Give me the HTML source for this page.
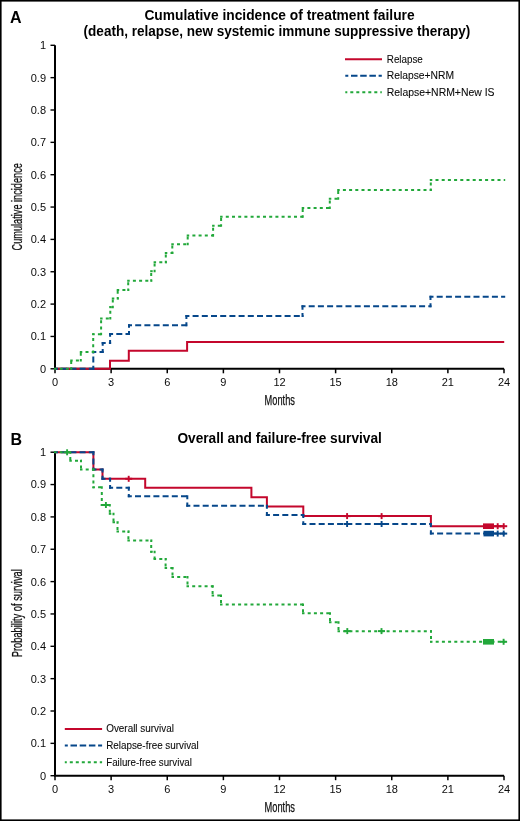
<!DOCTYPE html>
<html><head><meta charset="utf-8"><style>
html,body{margin:0;padding:0;background:#fff;}
svg{display:block;}
text{font-family:"Liberation Sans",sans-serif;fill:#0a0a0a;}
svg{will-change:transform;}
.tk{font-size:11px;}
.lg{font-size:10px;stroke:#0a0a0a;stroke-width:0.08px;}
.ti{font-size:13.8px;font-weight:bold;fill:#000;}
.pl{font-size:16px;font-weight:bold;fill:#000;}
.ax{font-size:14px;stroke:#1a1a1a;stroke-width:0.25px;}
</style></head><body>
<svg width="520" height="821" viewBox="0 0 520 821">
<rect x="0" y="0" width="520" height="821" fill="#fff"/>
<text x="10" y="22.6" class="pl">A</text>
<text x="10.5" y="445.4" class="pl">B</text>
<text x="144.4" y="19.5" class="ti" textLength="270.2" lengthAdjust="spacingAndGlyphs">Cumulative incidence of treatment failure</text>
<text x="83.6" y="35.7" class="ti" textLength="386.8" lengthAdjust="spacingAndGlyphs">(death, relapse, new systemic immune suppressive therapy)</text>
<text x="177.4" y="443" class="ti" textLength="204.4" lengthAdjust="spacingAndGlyphs">Overall and failure-free survival</text>
<path d="M55,45.3 V368.8 H504" fill="none" stroke="#000" stroke-width="2" stroke-linejoin="miter"/>
<line x1="50.5" y1="368.80" x2="55" y2="368.80" stroke="#000" stroke-width="1.4"/>
<text x="46" y="372.70" text-anchor="end" class="tk">0</text>
<line x1="50.5" y1="336.45" x2="55" y2="336.45" stroke="#000" stroke-width="1.4"/>
<text x="46" y="340.35" text-anchor="end" class="tk">0.1</text>
<line x1="50.5" y1="304.10" x2="55" y2="304.10" stroke="#000" stroke-width="1.4"/>
<text x="46" y="308.00" text-anchor="end" class="tk">0.2</text>
<line x1="50.5" y1="271.75" x2="55" y2="271.75" stroke="#000" stroke-width="1.4"/>
<text x="46" y="275.65" text-anchor="end" class="tk">0.3</text>
<line x1="50.5" y1="239.40" x2="55" y2="239.40" stroke="#000" stroke-width="1.4"/>
<text x="46" y="243.30" text-anchor="end" class="tk">0.4</text>
<line x1="50.5" y1="207.05" x2="55" y2="207.05" stroke="#000" stroke-width="1.4"/>
<text x="46" y="210.95" text-anchor="end" class="tk">0.5</text>
<line x1="50.5" y1="174.70" x2="55" y2="174.70" stroke="#000" stroke-width="1.4"/>
<text x="46" y="178.60" text-anchor="end" class="tk">0.6</text>
<line x1="50.5" y1="142.35" x2="55" y2="142.35" stroke="#000" stroke-width="1.4"/>
<text x="46" y="146.25" text-anchor="end" class="tk">0.7</text>
<line x1="50.5" y1="110.00" x2="55" y2="110.00" stroke="#000" stroke-width="1.4"/>
<text x="46" y="113.90" text-anchor="end" class="tk">0.8</text>
<line x1="50.5" y1="77.65" x2="55" y2="77.65" stroke="#000" stroke-width="1.4"/>
<text x="46" y="81.55" text-anchor="end" class="tk">0.9</text>
<line x1="50.5" y1="45.30" x2="55" y2="45.30" stroke="#000" stroke-width="1.4"/>
<text x="46" y="49.20" text-anchor="end" class="tk">1</text>
<line x1="55.00" y1="368.8" x2="55.00" y2="373.3" stroke="#000" stroke-width="1.5"/>
<text x="55.00" y="386.00" text-anchor="middle" class="tk">0</text>
<line x1="111.12" y1="368.8" x2="111.12" y2="373.3" stroke="#000" stroke-width="1.5"/>
<text x="111.12" y="386.00" text-anchor="middle" class="tk">3</text>
<line x1="167.25" y1="368.8" x2="167.25" y2="373.3" stroke="#000" stroke-width="1.5"/>
<text x="167.25" y="386.00" text-anchor="middle" class="tk">6</text>
<line x1="223.38" y1="368.8" x2="223.38" y2="373.3" stroke="#000" stroke-width="1.5"/>
<text x="223.38" y="386.00" text-anchor="middle" class="tk">9</text>
<line x1="279.50" y1="368.8" x2="279.50" y2="373.3" stroke="#000" stroke-width="1.5"/>
<text x="279.50" y="386.00" text-anchor="middle" class="tk">12</text>
<line x1="335.62" y1="368.8" x2="335.62" y2="373.3" stroke="#000" stroke-width="1.5"/>
<text x="335.62" y="386.00" text-anchor="middle" class="tk">15</text>
<line x1="391.75" y1="368.8" x2="391.75" y2="373.3" stroke="#000" stroke-width="1.5"/>
<text x="391.75" y="386.00" text-anchor="middle" class="tk">18</text>
<line x1="447.88" y1="368.8" x2="447.88" y2="373.3" stroke="#000" stroke-width="1.5"/>
<text x="447.88" y="386.00" text-anchor="middle" class="tk">21</text>
<line x1="504.00" y1="368.8" x2="504.00" y2="373.3" stroke="#000" stroke-width="1.5"/>
<text x="504.00" y="386.00" text-anchor="middle" class="tk">24</text>
<path d="M55,452.2 V775.7 H504" fill="none" stroke="#000" stroke-width="2" stroke-linejoin="miter"/>
<line x1="50.5" y1="775.70" x2="55" y2="775.70" stroke="#000" stroke-width="1.4"/>
<text x="46" y="779.60" text-anchor="end" class="tk">0</text>
<line x1="50.5" y1="743.35" x2="55" y2="743.35" stroke="#000" stroke-width="1.4"/>
<text x="46" y="747.25" text-anchor="end" class="tk">0.1</text>
<line x1="50.5" y1="711.00" x2="55" y2="711.00" stroke="#000" stroke-width="1.4"/>
<text x="46" y="714.90" text-anchor="end" class="tk">0.2</text>
<line x1="50.5" y1="678.65" x2="55" y2="678.65" stroke="#000" stroke-width="1.4"/>
<text x="46" y="682.55" text-anchor="end" class="tk">0.3</text>
<line x1="50.5" y1="646.30" x2="55" y2="646.30" stroke="#000" stroke-width="1.4"/>
<text x="46" y="650.20" text-anchor="end" class="tk">0.4</text>
<line x1="50.5" y1="613.95" x2="55" y2="613.95" stroke="#000" stroke-width="1.4"/>
<text x="46" y="617.85" text-anchor="end" class="tk">0.5</text>
<line x1="50.5" y1="581.60" x2="55" y2="581.60" stroke="#000" stroke-width="1.4"/>
<text x="46" y="585.50" text-anchor="end" class="tk">0.6</text>
<line x1="50.5" y1="549.25" x2="55" y2="549.25" stroke="#000" stroke-width="1.4"/>
<text x="46" y="553.15" text-anchor="end" class="tk">0.7</text>
<line x1="50.5" y1="516.90" x2="55" y2="516.90" stroke="#000" stroke-width="1.4"/>
<text x="46" y="520.80" text-anchor="end" class="tk">0.8</text>
<line x1="50.5" y1="484.55" x2="55" y2="484.55" stroke="#000" stroke-width="1.4"/>
<text x="46" y="488.45" text-anchor="end" class="tk">0.9</text>
<line x1="50.5" y1="452.20" x2="55" y2="452.20" stroke="#000" stroke-width="1.4"/>
<text x="46" y="456.10" text-anchor="end" class="tk">1</text>
<line x1="55.00" y1="775.7" x2="55.00" y2="780.2" stroke="#000" stroke-width="1.5"/>
<text x="55.00" y="792.90" text-anchor="middle" class="tk">0</text>
<line x1="111.12" y1="775.7" x2="111.12" y2="780.2" stroke="#000" stroke-width="1.5"/>
<text x="111.12" y="792.90" text-anchor="middle" class="tk">3</text>
<line x1="167.25" y1="775.7" x2="167.25" y2="780.2" stroke="#000" stroke-width="1.5"/>
<text x="167.25" y="792.90" text-anchor="middle" class="tk">6</text>
<line x1="223.38" y1="775.7" x2="223.38" y2="780.2" stroke="#000" stroke-width="1.5"/>
<text x="223.38" y="792.90" text-anchor="middle" class="tk">9</text>
<line x1="279.50" y1="775.7" x2="279.50" y2="780.2" stroke="#000" stroke-width="1.5"/>
<text x="279.50" y="792.90" text-anchor="middle" class="tk">12</text>
<line x1="335.62" y1="775.7" x2="335.62" y2="780.2" stroke="#000" stroke-width="1.5"/>
<text x="335.62" y="792.90" text-anchor="middle" class="tk">15</text>
<line x1="391.75" y1="775.7" x2="391.75" y2="780.2" stroke="#000" stroke-width="1.5"/>
<text x="391.75" y="792.90" text-anchor="middle" class="tk">18</text>
<line x1="447.88" y1="775.7" x2="447.88" y2="780.2" stroke="#000" stroke-width="1.5"/>
<text x="447.88" y="792.90" text-anchor="middle" class="tk">21</text>
<line x1="504.00" y1="775.7" x2="504.00" y2="780.2" stroke="#000" stroke-width="1.5"/>
<text x="504.00" y="792.90" text-anchor="middle" class="tk">24</text>
<text x="264.6" y="405.4" class="ax" textLength="30.3" lengthAdjust="spacingAndGlyphs">Months</text>
<text x="264.6" y="812.2" class="ax" textLength="30.4" lengthAdjust="spacingAndGlyphs">Months</text>
<text transform="translate(22,250.5) rotate(-90)" x="0" y="0" class="ax" textLength="87.4" lengthAdjust="spacingAndGlyphs">Cumulative incidence</text>
<text transform="translate(22,657.3) rotate(-90)" x="0" y="0" class="ax" textLength="88.1" lengthAdjust="spacingAndGlyphs">Probability of survival</text>
<line x1="345" y1="59.2" x2="382" y2="59.2" stroke="#c4072c" stroke-width="2"/>
<line x1="345.3" y1="75.8" x2="381.8" y2="75.8" stroke="#06478a" stroke-width="2" stroke-dasharray="6.5 2.7" stroke-dashoffset="3.5"/>
<line x1="345.3" y1="92.3" x2="381.8" y2="92.3" stroke="#22a83a" stroke-width="2" stroke-dasharray="3 3" stroke-dashoffset="1"/>
<text x="386.8" y="62.5" class="lg" textLength="36" lengthAdjust="spacingAndGlyphs">Relapse</text>
<text x="386.8" y="79.1" class="lg" textLength="67.3" lengthAdjust="spacingAndGlyphs">Relapse+NRM</text>
<text x="386.8" y="95.6" class="lg" textLength="107.7" lengthAdjust="spacingAndGlyphs">Relapse+NRM+New IS</text>
<line x1="64.8" y1="728.9" x2="102.1" y2="728.9" stroke="#c4072c" stroke-width="2"/>
<line x1="64.8" y1="745.4" x2="102.1" y2="745.4" stroke="#06478a" stroke-width="2" stroke-dasharray="6.5 2.7" stroke-dashoffset="3.5"/>
<line x1="64.8" y1="762.3" x2="102.1" y2="762.3" stroke="#22a83a" stroke-width="2" stroke-dasharray="3 3" stroke-dashoffset="1"/>
<text x="106.2" y="732.4" class="lg" textLength="67.7" lengthAdjust="spacingAndGlyphs">Overall survival</text>
<text x="106.2" y="748.9" class="lg" textLength="92.6" lengthAdjust="spacingAndGlyphs">Relapse-free survival</text>
<text x="106.2" y="765.7" class="lg" textLength="85.7" lengthAdjust="spacingAndGlyphs">Failure-free survival</text>
<path d="M55,368.8 H110 V360.8 H128.8 V350.8 H187.1 V342.1 H504.2" fill="none" stroke="#c4072c" stroke-width="2"/>
<line x1="54.00" y1="368.80" x2="94.30" y2="368.80" stroke="#06478a" stroke-width="2" stroke-dasharray="6 3.2" stroke-dashoffset="2.00"/>
<line x1="93.30" y1="369.80" x2="93.30" y2="350.90" stroke="#06478a" stroke-width="2" stroke-dasharray="6 3.2" stroke-dashoffset="2.00"/>
<line x1="92.30" y1="351.90" x2="103.70" y2="351.90" stroke="#06478a" stroke-width="2" stroke-dasharray="6 3.2" stroke-dashoffset="2.00"/>
<line x1="102.70" y1="352.90" x2="102.70" y2="342.00" stroke="#06478a" stroke-width="2" stroke-dasharray="6 3.2" stroke-dashoffset="2.00"/>
<line x1="101.70" y1="343.00" x2="111.10" y2="343.00" stroke="#06478a" stroke-width="2" stroke-dasharray="6 3.2" stroke-dashoffset="2.00"/>
<line x1="110.10" y1="344.00" x2="110.10" y2="333.00" stroke="#06478a" stroke-width="2" stroke-dasharray="6 3.2" stroke-dashoffset="2.00"/>
<line x1="109.10" y1="334.00" x2="130.00" y2="334.00" stroke="#06478a" stroke-width="2" stroke-dasharray="6 3.2" stroke-dashoffset="2.00"/>
<line x1="129.00" y1="335.00" x2="129.00" y2="324.30" stroke="#06478a" stroke-width="2" stroke-dasharray="6 3.2" stroke-dashoffset="2.00"/>
<line x1="128.00" y1="325.30" x2="187.40" y2="325.30" stroke="#06478a" stroke-width="2" stroke-dasharray="6 3.2" stroke-dashoffset="2.00"/>
<line x1="186.40" y1="326.30" x2="186.40" y2="315.00" stroke="#06478a" stroke-width="2" stroke-dasharray="6 3.2" stroke-dashoffset="2.00"/>
<line x1="185.40" y1="316.00" x2="303.50" y2="316.00" stroke="#06478a" stroke-width="2" stroke-dasharray="6 3.2" stroke-dashoffset="2.00"/>
<line x1="302.50" y1="317.00" x2="302.50" y2="305.30" stroke="#06478a" stroke-width="2" stroke-dasharray="6 3.2" stroke-dashoffset="2.00"/>
<line x1="301.50" y1="306.30" x2="431.50" y2="306.30" stroke="#06478a" stroke-width="2" stroke-dasharray="6 3.2" stroke-dashoffset="2.00"/>
<line x1="430.50" y1="307.30" x2="430.50" y2="295.80" stroke="#06478a" stroke-width="2" stroke-dasharray="6 3.2" stroke-dashoffset="2.00"/>
<line x1="429.50" y1="296.80" x2="505.20" y2="296.80" stroke="#06478a" stroke-width="2" stroke-dasharray="6 3.2" stroke-dashoffset="2.00"/>
<line x1="54.00" y1="368.80" x2="72.20" y2="368.80" stroke="#22a83a" stroke-width="2" stroke-dasharray="3 3.2" stroke-dashoffset="0.50"/>
<line x1="71.20" y1="369.80" x2="71.20" y2="359.50" stroke="#22a83a" stroke-width="2" stroke-dasharray="3 3.2" stroke-dashoffset="0.50"/>
<line x1="70.20" y1="360.50" x2="81.80" y2="360.50" stroke="#22a83a" stroke-width="2" stroke-dasharray="3 3.2" stroke-dashoffset="0.50"/>
<line x1="80.80" y1="361.50" x2="80.80" y2="351.00" stroke="#22a83a" stroke-width="2" stroke-dasharray="3 3.2" stroke-dashoffset="0.50"/>
<line x1="79.80" y1="352.00" x2="94.20" y2="352.00" stroke="#22a83a" stroke-width="2" stroke-dasharray="3 3.2" stroke-dashoffset="0.50"/>
<line x1="93.20" y1="353.00" x2="93.20" y2="333.20" stroke="#22a83a" stroke-width="2" stroke-dasharray="3 3.2" stroke-dashoffset="0.50"/>
<line x1="92.20" y1="334.20" x2="102.10" y2="334.20" stroke="#22a83a" stroke-width="2" stroke-dasharray="3 3.2" stroke-dashoffset="0.50"/>
<line x1="101.10" y1="335.20" x2="101.10" y2="317.50" stroke="#22a83a" stroke-width="2" stroke-dasharray="3 3.2" stroke-dashoffset="0.50"/>
<line x1="100.10" y1="318.50" x2="111.30" y2="318.50" stroke="#22a83a" stroke-width="2" stroke-dasharray="3 3.2" stroke-dashoffset="0.50"/>
<line x1="110.30" y1="319.50" x2="110.30" y2="306.20" stroke="#22a83a" stroke-width="2" stroke-dasharray="3 3.2" stroke-dashoffset="0.50"/>
<line x1="109.30" y1="307.20" x2="113.80" y2="307.20" stroke="#22a83a" stroke-width="2" stroke-dasharray="3 3.2" stroke-dashoffset="0.50"/>
<line x1="112.80" y1="308.20" x2="112.80" y2="297.50" stroke="#22a83a" stroke-width="2" stroke-dasharray="3 3.2" stroke-dashoffset="0.50"/>
<line x1="111.80" y1="298.50" x2="118.70" y2="298.50" stroke="#22a83a" stroke-width="2" stroke-dasharray="3 3.2" stroke-dashoffset="0.50"/>
<line x1="117.70" y1="299.50" x2="117.70" y2="289.00" stroke="#22a83a" stroke-width="2" stroke-dasharray="3 3.2" stroke-dashoffset="0.50"/>
<line x1="116.70" y1="290.00" x2="129.20" y2="290.00" stroke="#22a83a" stroke-width="2" stroke-dasharray="3 3.2" stroke-dashoffset="0.50"/>
<line x1="128.20" y1="291.00" x2="128.20" y2="279.80" stroke="#22a83a" stroke-width="2" stroke-dasharray="3 3.2" stroke-dashoffset="0.50"/>
<line x1="127.20" y1="280.80" x2="152.20" y2="280.80" stroke="#22a83a" stroke-width="2" stroke-dasharray="3 3.2" stroke-dashoffset="0.50"/>
<line x1="151.20" y1="281.80" x2="151.20" y2="270.20" stroke="#22a83a" stroke-width="2" stroke-dasharray="3 3.2" stroke-dashoffset="0.50"/>
<line x1="150.20" y1="271.20" x2="155.60" y2="271.20" stroke="#22a83a" stroke-width="2" stroke-dasharray="3 3.2" stroke-dashoffset="0.50"/>
<line x1="154.60" y1="272.20" x2="154.60" y2="261.30" stroke="#22a83a" stroke-width="2" stroke-dasharray="3 3.2" stroke-dashoffset="0.50"/>
<line x1="153.60" y1="262.30" x2="166.80" y2="262.30" stroke="#22a83a" stroke-width="2" stroke-dasharray="3 3.2" stroke-dashoffset="0.50"/>
<line x1="165.80" y1="263.30" x2="165.80" y2="252.10" stroke="#22a83a" stroke-width="2" stroke-dasharray="3 3.2" stroke-dashoffset="0.50"/>
<line x1="164.80" y1="253.10" x2="173.30" y2="253.10" stroke="#22a83a" stroke-width="2" stroke-dasharray="3 3.2" stroke-dashoffset="0.50"/>
<line x1="172.30" y1="254.10" x2="172.30" y2="243.20" stroke="#22a83a" stroke-width="2" stroke-dasharray="3 3.2" stroke-dashoffset="0.50"/>
<line x1="171.30" y1="244.20" x2="188.70" y2="244.20" stroke="#22a83a" stroke-width="2" stroke-dasharray="3 3.2" stroke-dashoffset="0.50"/>
<line x1="187.70" y1="245.20" x2="187.70" y2="234.40" stroke="#22a83a" stroke-width="2" stroke-dasharray="3 3.2" stroke-dashoffset="0.50"/>
<line x1="186.70" y1="235.40" x2="214.10" y2="235.40" stroke="#22a83a" stroke-width="2" stroke-dasharray="3 3.2" stroke-dashoffset="0.50"/>
<line x1="213.10" y1="236.40" x2="213.10" y2="224.80" stroke="#22a83a" stroke-width="2" stroke-dasharray="3 3.2" stroke-dashoffset="0.50"/>
<line x1="212.10" y1="225.80" x2="222.10" y2="225.80" stroke="#22a83a" stroke-width="2" stroke-dasharray="3 3.2" stroke-dashoffset="0.50"/>
<line x1="221.10" y1="226.80" x2="221.10" y2="215.80" stroke="#22a83a" stroke-width="2" stroke-dasharray="3 3.2" stroke-dashoffset="0.50"/>
<line x1="220.10" y1="216.80" x2="303.70" y2="216.80" stroke="#22a83a" stroke-width="2" stroke-dasharray="3 3.2" stroke-dashoffset="0.50"/>
<line x1="302.70" y1="217.80" x2="302.70" y2="207.10" stroke="#22a83a" stroke-width="2" stroke-dasharray="3 3.2" stroke-dashoffset="0.50"/>
<line x1="301.70" y1="208.10" x2="330.80" y2="208.10" stroke="#22a83a" stroke-width="2" stroke-dasharray="3 3.2" stroke-dashoffset="0.50"/>
<line x1="329.80" y1="209.10" x2="329.80" y2="197.80" stroke="#22a83a" stroke-width="2" stroke-dasharray="3 3.2" stroke-dashoffset="0.50"/>
<line x1="328.80" y1="198.80" x2="339.20" y2="198.80" stroke="#22a83a" stroke-width="2" stroke-dasharray="3 3.2" stroke-dashoffset="0.50"/>
<line x1="338.20" y1="199.80" x2="338.20" y2="189.10" stroke="#22a83a" stroke-width="2" stroke-dasharray="3 3.2" stroke-dashoffset="0.50"/>
<line x1="337.20" y1="190.10" x2="431.80" y2="190.10" stroke="#22a83a" stroke-width="2" stroke-dasharray="3 3.2" stroke-dashoffset="0.50"/>
<line x1="430.80" y1="191.10" x2="430.80" y2="178.90" stroke="#22a83a" stroke-width="2" stroke-dasharray="3 3.2" stroke-dashoffset="0.50"/>
<line x1="429.80" y1="179.90" x2="505.20" y2="179.90" stroke="#22a83a" stroke-width="2" stroke-dasharray="3 3.2" stroke-dashoffset="0.50"/>
<path d="M55,452.2 H93.4 V469.6 H102.5 V478.8 H145.2 V487.8 H251.4 V497.3 H266.9 V506.6 H303.3 V516.1 H430.9 V526.2 H504.2" fill="none" stroke="#c4072c" stroke-width="2"/>
<line x1="54.00" y1="452.20" x2="94.40" y2="452.20" stroke="#06478a" stroke-width="2" stroke-dasharray="6 3.2" stroke-dashoffset="2.00"/>
<line x1="93.40" y1="451.20" x2="93.40" y2="470.60" stroke="#06478a" stroke-width="2" stroke-dasharray="6 3.2" stroke-dashoffset="2.00"/>
<line x1="92.40" y1="469.60" x2="103.50" y2="469.60" stroke="#06478a" stroke-width="2" stroke-dasharray="6 3.2" stroke-dashoffset="2.00"/>
<line x1="102.50" y1="468.60" x2="102.50" y2="479.80" stroke="#06478a" stroke-width="2" stroke-dasharray="6 3.2" stroke-dashoffset="2.00"/>
<line x1="101.50" y1="478.80" x2="111.10" y2="478.80" stroke="#06478a" stroke-width="2" stroke-dasharray="6 3.2" stroke-dashoffset="2.00"/>
<line x1="110.10" y1="477.80" x2="110.10" y2="488.80" stroke="#06478a" stroke-width="2" stroke-dasharray="6 3.2" stroke-dashoffset="2.00"/>
<line x1="109.10" y1="487.80" x2="129.80" y2="487.80" stroke="#06478a" stroke-width="2" stroke-dasharray="6 3.2" stroke-dashoffset="2.00"/>
<line x1="128.80" y1="486.80" x2="128.80" y2="497.30" stroke="#06478a" stroke-width="2" stroke-dasharray="6 3.2" stroke-dashoffset="2.00"/>
<line x1="127.80" y1="496.30" x2="188.30" y2="496.30" stroke="#06478a" stroke-width="2" stroke-dasharray="6 3.2" stroke-dashoffset="2.00"/>
<line x1="187.30" y1="495.30" x2="187.30" y2="506.70" stroke="#06478a" stroke-width="2" stroke-dasharray="6 3.2" stroke-dashoffset="2.00"/>
<line x1="186.30" y1="505.70" x2="267.90" y2="505.70" stroke="#06478a" stroke-width="2" stroke-dasharray="6 3.2" stroke-dashoffset="2.00"/>
<line x1="266.90" y1="504.70" x2="266.90" y2="516.00" stroke="#06478a" stroke-width="2" stroke-dasharray="6 3.2" stroke-dashoffset="2.00"/>
<line x1="265.90" y1="515.00" x2="304.30" y2="515.00" stroke="#06478a" stroke-width="2" stroke-dasharray="6 3.2" stroke-dashoffset="2.00"/>
<line x1="303.30" y1="514.00" x2="303.30" y2="525.00" stroke="#06478a" stroke-width="2" stroke-dasharray="6 3.2" stroke-dashoffset="2.00"/>
<line x1="302.30" y1="524.00" x2="431.90" y2="524.00" stroke="#06478a" stroke-width="2" stroke-dasharray="6 3.2" stroke-dashoffset="2.00"/>
<line x1="430.90" y1="523.00" x2="430.90" y2="534.60" stroke="#06478a" stroke-width="2" stroke-dasharray="6 3.2" stroke-dashoffset="2.00"/>
<line x1="429.90" y1="533.60" x2="505.20" y2="533.60" stroke="#06478a" stroke-width="2" stroke-dasharray="6 3.2" stroke-dashoffset="2.00"/>
<line x1="54.00" y1="452.20" x2="71.30" y2="452.20" stroke="#22a83a" stroke-width="2" stroke-dasharray="3 3.2" stroke-dashoffset="0.50"/>
<line x1="70.30" y1="451.20" x2="70.30" y2="461.80" stroke="#22a83a" stroke-width="2" stroke-dasharray="3 3.2" stroke-dashoffset="0.50"/>
<line x1="69.30" y1="460.80" x2="82.00" y2="460.80" stroke="#22a83a" stroke-width="2" stroke-dasharray="3 3.2" stroke-dashoffset="0.50"/>
<line x1="81.00" y1="459.80" x2="81.00" y2="470.60" stroke="#22a83a" stroke-width="2" stroke-dasharray="3 3.2" stroke-dashoffset="0.50"/>
<line x1="80.00" y1="469.60" x2="94.40" y2="469.60" stroke="#22a83a" stroke-width="2" stroke-dasharray="3 3.2" stroke-dashoffset="0.50"/>
<line x1="93.40" y1="468.60" x2="93.40" y2="488.20" stroke="#22a83a" stroke-width="2" stroke-dasharray="3 3.2" stroke-dashoffset="0.50"/>
<line x1="92.40" y1="487.20" x2="102.80" y2="487.20" stroke="#22a83a" stroke-width="2" stroke-dasharray="3 3.2" stroke-dashoffset="0.50"/>
<line x1="101.80" y1="486.20" x2="101.80" y2="506.00" stroke="#22a83a" stroke-width="2" stroke-dasharray="3 3.2" stroke-dashoffset="0.50"/>
<line x1="100.80" y1="505.00" x2="110.80" y2="505.00" stroke="#22a83a" stroke-width="2" stroke-dasharray="3 3.2" stroke-dashoffset="0.50"/>
<line x1="109.80" y1="504.00" x2="109.80" y2="514.80" stroke="#22a83a" stroke-width="2" stroke-dasharray="3 3.2" stroke-dashoffset="0.50"/>
<line x1="108.80" y1="513.80" x2="114.50" y2="513.80" stroke="#22a83a" stroke-width="2" stroke-dasharray="3 3.2" stroke-dashoffset="0.50"/>
<line x1="113.50" y1="512.80" x2="113.50" y2="523.30" stroke="#22a83a" stroke-width="2" stroke-dasharray="3 3.2" stroke-dashoffset="0.50"/>
<line x1="112.50" y1="522.30" x2="118.50" y2="522.30" stroke="#22a83a" stroke-width="2" stroke-dasharray="3 3.2" stroke-dashoffset="0.50"/>
<line x1="117.50" y1="521.30" x2="117.50" y2="532.60" stroke="#22a83a" stroke-width="2" stroke-dasharray="3 3.2" stroke-dashoffset="0.50"/>
<line x1="116.50" y1="531.60" x2="129.40" y2="531.60" stroke="#22a83a" stroke-width="2" stroke-dasharray="3 3.2" stroke-dashoffset="0.50"/>
<line x1="128.40" y1="530.60" x2="128.40" y2="541.40" stroke="#22a83a" stroke-width="2" stroke-dasharray="3 3.2" stroke-dashoffset="0.50"/>
<line x1="127.40" y1="540.40" x2="152.20" y2="540.40" stroke="#22a83a" stroke-width="2" stroke-dasharray="3 3.2" stroke-dashoffset="0.50"/>
<line x1="151.20" y1="539.40" x2="151.20" y2="552.70" stroke="#22a83a" stroke-width="2" stroke-dasharray="3 3.2" stroke-dashoffset="0.50"/>
<line x1="150.20" y1="551.70" x2="155.60" y2="551.70" stroke="#22a83a" stroke-width="2" stroke-dasharray="3 3.2" stroke-dashoffset="0.50"/>
<line x1="154.60" y1="550.70" x2="154.60" y2="559.90" stroke="#22a83a" stroke-width="2" stroke-dasharray="3 3.2" stroke-dashoffset="0.50"/>
<line x1="153.60" y1="558.90" x2="166.60" y2="558.90" stroke="#22a83a" stroke-width="2" stroke-dasharray="3 3.2" stroke-dashoffset="0.50"/>
<line x1="165.60" y1="557.90" x2="165.60" y2="568.90" stroke="#22a83a" stroke-width="2" stroke-dasharray="3 3.2" stroke-dashoffset="0.50"/>
<line x1="164.60" y1="567.90" x2="173.50" y2="567.90" stroke="#22a83a" stroke-width="2" stroke-dasharray="3 3.2" stroke-dashoffset="0.50"/>
<line x1="172.50" y1="566.90" x2="172.50" y2="577.90" stroke="#22a83a" stroke-width="2" stroke-dasharray="3 3.2" stroke-dashoffset="0.50"/>
<line x1="171.50" y1="576.90" x2="188.50" y2="576.90" stroke="#22a83a" stroke-width="2" stroke-dasharray="3 3.2" stroke-dashoffset="0.50"/>
<line x1="187.50" y1="575.90" x2="187.50" y2="587.30" stroke="#22a83a" stroke-width="2" stroke-dasharray="3 3.2" stroke-dashoffset="0.50"/>
<line x1="186.50" y1="586.30" x2="213.60" y2="586.30" stroke="#22a83a" stroke-width="2" stroke-dasharray="3 3.2" stroke-dashoffset="0.50"/>
<line x1="212.60" y1="585.30" x2="212.60" y2="596.40" stroke="#22a83a" stroke-width="2" stroke-dasharray="3 3.2" stroke-dashoffset="0.50"/>
<line x1="211.60" y1="595.40" x2="222.00" y2="595.40" stroke="#22a83a" stroke-width="2" stroke-dasharray="3 3.2" stroke-dashoffset="0.50"/>
<line x1="221.00" y1="594.40" x2="221.00" y2="605.50" stroke="#22a83a" stroke-width="2" stroke-dasharray="3 3.2" stroke-dashoffset="0.50"/>
<line x1="220.00" y1="604.50" x2="304.00" y2="604.50" stroke="#22a83a" stroke-width="2" stroke-dasharray="3 3.2" stroke-dashoffset="0.50"/>
<line x1="303.00" y1="603.50" x2="303.00" y2="614.30" stroke="#22a83a" stroke-width="2" stroke-dasharray="3 3.2" stroke-dashoffset="0.50"/>
<line x1="302.00" y1="613.30" x2="331.00" y2="613.30" stroke="#22a83a" stroke-width="2" stroke-dasharray="3 3.2" stroke-dashoffset="0.50"/>
<line x1="330.00" y1="612.30" x2="330.00" y2="623.30" stroke="#22a83a" stroke-width="2" stroke-dasharray="3 3.2" stroke-dashoffset="0.50"/>
<line x1="329.00" y1="622.30" x2="339.50" y2="622.30" stroke="#22a83a" stroke-width="2" stroke-dasharray="3 3.2" stroke-dashoffset="0.50"/>
<line x1="338.50" y1="621.30" x2="338.50" y2="632.30" stroke="#22a83a" stroke-width="2" stroke-dasharray="3 3.2" stroke-dashoffset="0.50"/>
<line x1="337.50" y1="631.30" x2="432.00" y2="631.30" stroke="#22a83a" stroke-width="2" stroke-dasharray="3 3.2" stroke-dashoffset="0.50"/>
<line x1="431.00" y1="630.30" x2="431.00" y2="642.80" stroke="#22a83a" stroke-width="2" stroke-dasharray="3 3.2" stroke-dashoffset="0.50"/>
<line x1="430.00" y1="641.80" x2="505.20" y2="641.80" stroke="#22a83a" stroke-width="2" stroke-dasharray="3 3.2" stroke-dashoffset="0.50"/>
<line x1="125.19999999999999" y1="478.8" x2="132.2" y2="478.8" stroke="#c4072c" stroke-width="2"/><line x1="128.7" y1="475.8" x2="128.7" y2="481.8" stroke="#c4072c" stroke-width="1.9"/>
<line x1="343.6" y1="516.1" x2="350.6" y2="516.1" stroke="#c4072c" stroke-width="2"/><line x1="347.1" y1="513.1" x2="347.1" y2="519.1" stroke="#c4072c" stroke-width="1.9"/>
<line x1="378.1" y1="516.1" x2="385.1" y2="516.1" stroke="#c4072c" stroke-width="2"/><line x1="381.6" y1="513.1" x2="381.6" y2="519.1" stroke="#c4072c" stroke-width="1.9"/>
<line x1="494.2" y1="526.2" x2="501.2" y2="526.2" stroke="#c4072c" stroke-width="2"/><line x1="497.7" y1="523.2" x2="497.7" y2="529.2" stroke="#c4072c" stroke-width="1.9"/>
<line x1="500.2" y1="526.2" x2="507.2" y2="526.2" stroke="#c4072c" stroke-width="2"/><line x1="503.7" y1="523.2" x2="503.7" y2="529.2" stroke="#c4072c" stroke-width="1.9"/>
<rect x="483" y="523.4000000000001" width="11" height="5.6" fill="#c4072c"/>
<line x1="343.6" y1="524" x2="350.6" y2="524" stroke="#06478a" stroke-width="2"/><line x1="347.1" y1="521.0" x2="347.1" y2="527.0" stroke="#06478a" stroke-width="1.9"/>
<line x1="378.1" y1="524" x2="385.1" y2="524" stroke="#06478a" stroke-width="2"/><line x1="381.6" y1="521.0" x2="381.6" y2="527.0" stroke="#06478a" stroke-width="1.9"/>
<line x1="494.2" y1="533.6" x2="501.2" y2="533.6" stroke="#06478a" stroke-width="2"/><line x1="497.7" y1="530.6" x2="497.7" y2="536.6" stroke="#06478a" stroke-width="1.9"/>
<line x1="500.2" y1="533.6" x2="507.2" y2="533.6" stroke="#06478a" stroke-width="2"/><line x1="503.7" y1="530.6" x2="503.7" y2="536.6" stroke="#06478a" stroke-width="1.9"/>
<rect x="483.5" y="530.8000000000001" width="10.5" height="5.6" fill="#06478a"/>
<line x1="63.599999999999994" y1="452.3" x2="70.6" y2="452.3" stroke="#22a83a" stroke-width="2"/><line x1="67.1" y1="449.3" x2="67.1" y2="455.3" stroke="#22a83a" stroke-width="1.9"/>
<line x1="102.4" y1="505" x2="109.4" y2="505" stroke="#22a83a" stroke-width="2"/><line x1="105.9" y1="502.0" x2="105.9" y2="508.0" stroke="#22a83a" stroke-width="1.9"/>
<line x1="343.8" y1="631.1" x2="350.8" y2="631.1" stroke="#22a83a" stroke-width="2"/><line x1="347.3" y1="628.1" x2="347.3" y2="634.1" stroke="#22a83a" stroke-width="1.9"/>
<line x1="378.0" y1="631.1" x2="385.0" y2="631.1" stroke="#22a83a" stroke-width="2"/><line x1="381.5" y1="628.1" x2="381.5" y2="634.1" stroke="#22a83a" stroke-width="1.9"/>
<line x1="500.1" y1="641.8" x2="507.1" y2="641.8" stroke="#22a83a" stroke-width="2"/><line x1="503.6" y1="638.8" x2="503.6" y2="644.8" stroke="#22a83a" stroke-width="1.9"/>
<rect x="483" y="639.0" width="11" height="5.6" fill="#22a83a"/>
<rect x="0.8" y="0.8" width="518.4" height="819.4" fill="none" stroke="#000" stroke-width="1.6"/>
</svg>
</body></html>
